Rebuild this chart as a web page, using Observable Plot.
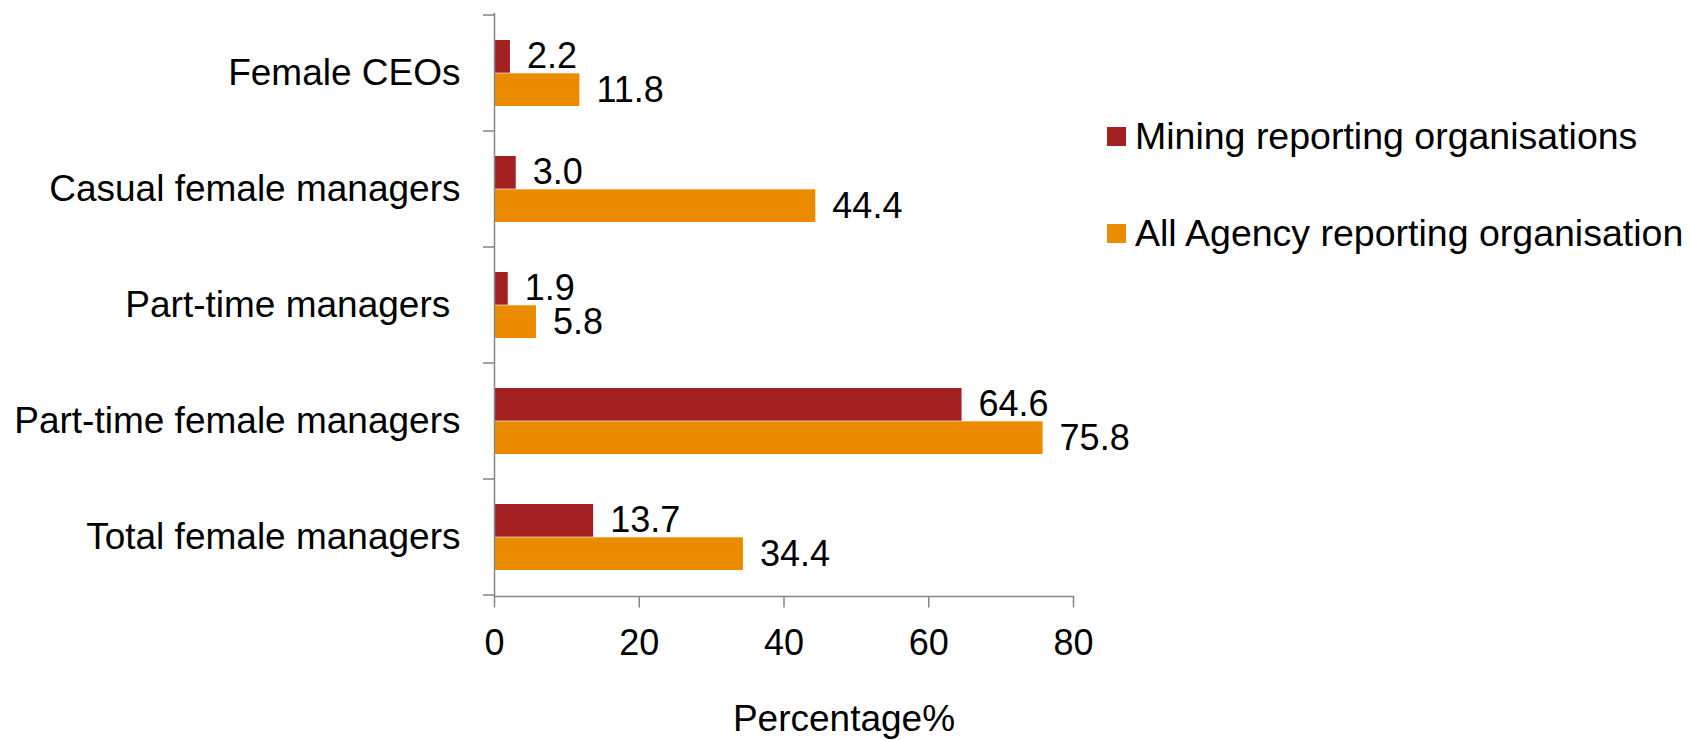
<!DOCTYPE html>
<html>
<head>
<meta charset="utf-8">
<script src="https://cdn.jsdelivr.net/npm/d3@7"></script>
<script src="https://cdn.jsdelivr.net/npm/@observablehq/plot@0.6"></script>
<style>
  html, body { margin: 0; padding: 0; background: #fff; }
  #wrap { position: relative; width: 1692px; height: 740px; font-family: "Liberation Sans", Arial, Helvetica, sans-serif; }
  #chart { position: absolute; left: 0; top: 0; }
  #chart svg text { white-space: pre; }
  .legend-item { position: absolute; left: 1107px; display: flex; align-items: center; height: 37px; font-size: 37.5px; line-height: 37px; color: #000; white-space: nowrap; }
  .legend-item .sw { width: 18.5px; height: 19px; margin-right: 9.5px; flex: none; }
</style>
</head>
<body>
<div id="wrap">
  <div id="chart"></div>
  <div id="legend"></div>
</div>
<script>
// Categories, top to bottom
const categories = [
  "Female CEOs",
  "Casual female managers",
  "Part-time managers ",
  "Part-time female managers",
  "Total female managers"
];
// Series names and values (%)
const seriesNames = ["Mining reporting organisations", "All Agency reporting organisation"];
const miningValues = [2.2, 3.0, 1.9, 64.6, 13.7];
const agencyValues = [11.8, 44.4, 5.8, 75.8, 34.4];
const seriesColors = ["#A21F22", "#EB8C00"];
const xTicks = [0, 20, 40, 60, 80];
const xLabel = "Percentage%";

const mining = categories.map((c, i) => ({category: c, value: miningValues[i]}));
const agency = categories.map((c, i) => ({category: c, value: agencyValues[i]}));

const axisGray = "#868686";
const font = "\"Liberation Sans\", Arial, Helvetica, sans-serif";

// Geometry of the paired bars inside each category band
const barH = 33.3, outer = 25;

const chart = Plot.plot({
  width: 1692,
  height: 740,
  marginLeft: 494,
  marginRight: 619,
  marginTop: 13,
  marginBottom: 144,
  style: {fontFamily: font, background: "transparent"},
  x: {domain: [0, 80], ticks: xTicks},
  y: {domain: categories, padding: 0},
  marks: [
    Plot.barX(mining, {
      x: "value", y: "category", fill: seriesColors[0],
      insetTop: outer, insetBottom: 116.6 - outer - barH
    }),
    Plot.barX(agency, {
      x: "value", y: "category", fill: seriesColors[1],
      insetTop: 116.6 - outer - barH, insetBottom: outer
    }),
    Plot.text(mining, {
      x: "value", y: "category", text: d => d.value.toFixed(1),
      textAnchor: "start", dx: 16.5, dy: -barH / 2, fontSize: 36, fill: "#000"
    }),
    Plot.text(agency, {
      x: "value", y: "category", text: d => d.value.toFixed(1),
      textAnchor: "start", dx: 16.5, dy: barH / 2, fontSize: 36, fill: "#000"
    }),
    Plot.ruleX([0], {stroke: axisGray, strokeWidth: 1.5}),
    Plot.frame({anchor: "bottom", stroke: axisGray, strokeWidth: 1.5}),
    Plot.axisX({
      ticks: xTicks, tickSize: 11.5, tickPadding: 21, fontSize: 36,
      stroke: axisGray, strokeWidth: 1.5, fill: "#000", label: null
    }),
    Plot.axisY({
      tickSize: 0, tickPadding: 34, fontSize: 37, fill: "#000", label: null
    }),
    Plot.text([xLabel], {
      frameAnchor: "bottom", dx: 60, dy: 123, lineAnchor: "middle",
      fontSize: 37, fill: "#000"
    })
  ]
});

// Category boundary ticks on the left axis, placed with the y scale
const ys = chart.scale("y");
const bounds = categories.map(c => ys.apply(c));
bounds.push(ys.apply(categories[categories.length - 1]) + ys.bandwidth);
const x0 = chart.scale("x").apply(0);
d3.select(chart).append("g")
  .attr("stroke", axisGray)
  .attr("stroke-width", 1.5)
  .selectAll("line")
  .data(bounds)
  .join("line")
  .attr("x1", x0 - 11)
  .attr("x2", x0)
  .attr("y1", d => d)
  .attr("y2", d => d);

document.getElementById("chart").appendChild(chart);

// Legend to the right of the plot
const legendTops = [117.5, 215];
const legend = d3.select("#legend");
seriesNames.forEach((name, i) => {
  const item = legend.append("div").attr("class", "legend-item").style("top", legendTops[i] + "px");
  item.append("div").attr("class", "sw").style("background", seriesColors[i]);
  item.append("span").text(name);
});
</script>
</body>
</html>
